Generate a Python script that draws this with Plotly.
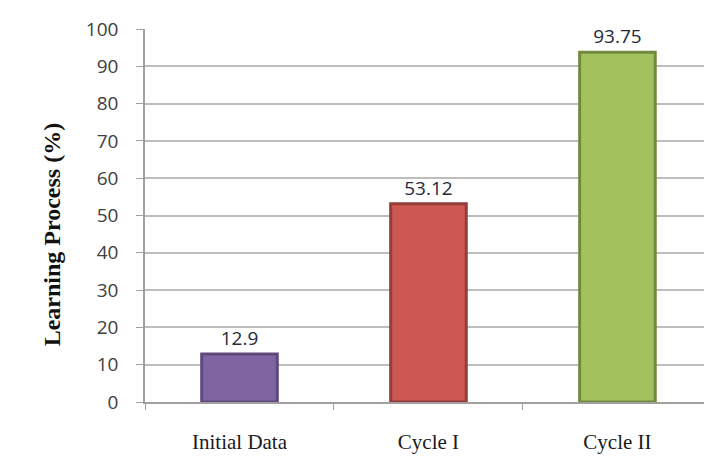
import plotly.graph_objects as go

categories = ["Initial Data", "Cycle I", "Cycle II"]
values = [12.9, 53.12, 93.75]
labels = ["12.9", "53.12", "93.75"]
colors = ["#8064A2", "#CD5753", "#A2C25E"]
edge_colors = ["#5E4A7A", "#943C39", "#72893F"]

fig = go.Figure()
fig.add_trace(go.Bar(
    x=categories, y=values, width=0.4,
    marker=dict(color=colors, line=dict(color=edge_colors, width=3)),
    text=labels, textposition="outside", cliponaxis=False,
    textfont=dict(family="Open Sans", size=19, color="#1F2A3A"),
))

fig.update_layout(
    width=704, height=462,
    margin=dict(l=145, r=0, t=29, b=60),
    paper_bgcolor="white", plot_bgcolor="white",
    showlegend=False,
    bargap=0.6,
    xaxis=dict(
        range=[-0.5, 2.458],
        tickson="boundaries", ticks="outside", ticklen=6, tickcolor="#A0A0A0",
        showline=True, linecolor="#A0A0A0", linewidth=1.5,
        showgrid=False,
        tickfont=dict(family="Liberation Serif", size=21, color="#1a1a1a"),
        ticklabelstandoff=20,
    ),
    yaxis=dict(
        range=[0, 100], dtick=10,
        ticks="outside", ticklen=7, tickcolor="#A0A0A0",
        showline=True, linecolor="#A0A0A0", linewidth=1.5,
        showgrid=True, gridcolor="#BDBDBD", gridwidth=1.5,
        zeroline=False,
        tickfont=dict(family="Open Sans", size=19, color="#404040"),
        ticklabelstandoff=14,
    ),
    annotations=[dict(
        text="<b>Learning Process (%)</b>", textangle=-90,
        xref="paper", yref="paper", x=-0.166, y=0.45,
        xanchor="center", yanchor="middle", showarrow=False,
        font=dict(family="Liberation Serif", size=24, color="#111111"),
    )],
)

fig.write_html("out.html")
